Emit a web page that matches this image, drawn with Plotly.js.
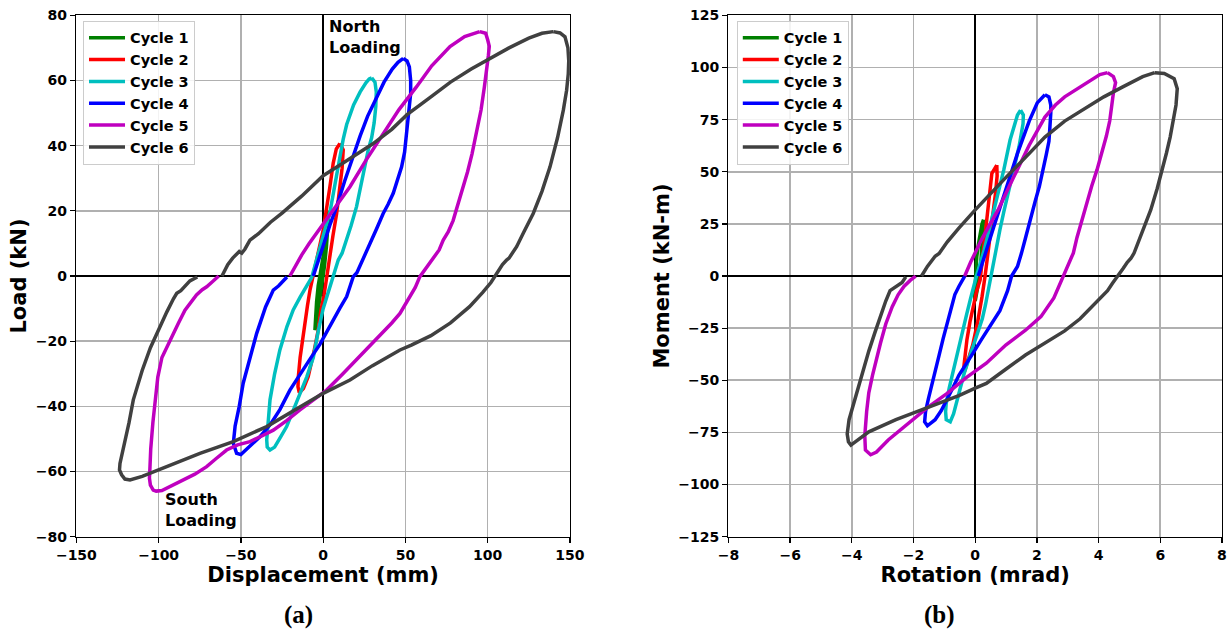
<!DOCTYPE html>
<html><head><meta charset="utf-8">
<script src="https://cdn.plot.ly/plotly-3.0.1.min.js"></script>
<style>html,body{margin:0;padding:0;background:#fff}#chart{width:1228px;height:633px}</style>
</head><body><div id="chart"></div>
<script>
const cycleNames = ['Cycle 1','Cycle 2','Cycle 3','Cycle 4','Cycle 5','Cycle 6'];
const cycleColors = ['#008000','#ff0000','#00bfbf','#0000ff','#bf00bf','#404040'];

// (a) Load vs displacement
const disp1 = [3.5, 3, 2, 0.8, -0.5, -2, -3.5, -5, -4.8, -4, -3, -1.5, 0, 2.1, 3.5];
const load1 = [20, 15, 9, 3, -2, -7, -12, -16.6, -13, -8, -3, 2, 6, 11, 20];
const disp2 = [10.2, 12.2, 11.5, 10.2, 8.2, 6, 4, 2.1, 0.5, -1.5, -3, -5.5, -9.1, -12, -14.5, -15.3, -15.1, -14, -12, -9.5, -8, -6, -4, -2, 0, 2, 4, 6.1, 8, 10.2];
const load2 = [40.7, 38.7, 33, 27.4, 19.2, 12.5, 5.5, -1.2, -6, -11, -16.6, -23, -30.9, -34.5, -35.8, -34, -31, -25, -17, -9, -4.3, 0, 4.5, 9.5, 14.1, 20, 27, 34.6, 39, 40.7];
const disp3 = [29.5, 31.5, 32.3, 32, 31, 29.5, 27.4, 25, 22.5, 20.3, 17, 14.3, 11.5, 9.2, 7.5, 6, 4, 2, 0, -3, -6, -10, -14.1, -18, -22.2, -26, -29.5, -32.3, -34, -34.3, -33.5, -32.3, -29.5, -26.3, -22, -18.2, -14, -10, -7, -4, -1, 1.5, 4.1, 7, 10, 12.2, 14.3, 18.5, 22.5, 26, 28, 29.5];
const load3 = [60.8, 59.5, 56.5, 52, 47, 42.5, 38.7, 32.5, 26.5, 21.3, 15.5, 11.5, 7, 4.9, 2, -0.5, -3.5, -6.5, -10, -17, -25, -31, -36, -41, -46.2, -49.5, -52.5, -53.4, -52.5, -50.3, -45, -38, -30, -22.7, -15.5, -10.4, -6.5, -3.3, -0.5, 5, 11, 15, 19.5, 27, 36, 42, 46.5, 52.5, 56.5, 59.3, 60.5, 60.8];
const disp4 = [48.7, 51, 52.4, 53.2, 53.2, 52, 50.7, 49.5, 47.7, 45, 42.6, 39.5, 36.5, 32.5, 28.5, 25, 22.4, 20.5, 18.3, 16.5, 14.3, 10, 6.1, 2, -2, -8, -14.1, -20.2, -26.3, -32, -38.4, -43, -46.5, -50, -52.6, -54.6, -53.5, -51, -48.6, -44.5, -40.4, -35, -30.3, -27, -24, -22, null, -6, -3, 0.5, 4, 8, 13, 18, 22.5, 27, 32, 37, 42, 45.5, 48.7];
const load4 = [66.8, 66, 64.2, 60, 56, 50, 43.8, 38, 33.5, 29, 25.4, 22, 19.2, 14.5, 10, 6, 2.9, 1, -0.2, -3, -6.3, -10, -13.5, -17, -21, -25.5, -30.5, -35, -41, -45.5, -49.3, -51.5, -53.4, -54.8, -54.4, -51.3, -46, -40, -32.9, -25, -17.6, -9.5, -4.3, -3, -1.5, -0.3, null, 0, 5, 10, 15.5, 21, 29, 36.5, 43, 49, 54.5, 59.5, 63.5, 65.6, 66.8];
const disp5 = [95.2, 98.8, 100, 101, 100.4, 99.4, 98, 96, 93.3, 90.5, 87.8, 85.2, 82, 79, 76, 73, 70.5, 67, 64, 61, 58.8, 56, 52.7, 49.5, 46.7, 41.7, 35, 29.8, 22.4, 12, 2.1, -6, -14.1, -22, -30.3, -37, -44.5, -52, -58.7, -65, -70.8, -78, -85, -92, -98, -101.5, -103.3, -105, -105.6, -105.3, -104.8, -103.5, -102.2, -100.5, -98, -93.1, -88, -84, -81, -77, -73.5, -70.8, -67, -63.5, null, -20.2, -17, -13, -8.5, -4, 0, 8, 16.3, 26, 36.5, 46, 56.8, 66, 77.1, 86, 93.3, 95.2];
const load5 = [75, 74.5, 72.5, 70.5, 67.5, 64.2, 58, 51, 43.8, 37.5, 32, 27.4, 21.5, 17, 13.5, 11, 8, 5.5, 3.5, 1.3, -0.2, -3.5, -6.3, -9, -11.5, -14.4, -18, -20.8, -24.8, -30, -35, -38, -41.1, -44.3, -47.3, -49, -50.8, -51.8, -53.4, -56, -58.5, -60.8, -62.6, -64.5, -65.8, -66, -65.7, -64.2, -62, -59, -53, -45, -38, -31, -25, -19.6, -14.5, -10.5, -8.4, -5.8, -4.2, -3.3, -1.6, 0, null, 0, 3, 6.5, 10, 13.1, 16.3, 21.5, 27.4, 35.5, 43.8, 51, 58.1, 64.5, 70.4, 73.5, 74.7, 75];
const disp6 = [139.9, 144, 147, 148.8, 149.3, 149, 148, 146, 142.5, 137.9, 133, 127.7, 122, 117.6, 113, 111.5, 109, 105.5, 102, 97, 89, 77.4, 65.5, 53.6, 46.7, 30, 16.3, 0, -14.1, -34.3, -54.6, -74.9, -95.1, -110, -117.4, -120.5, -122.5, -123.8, -123.5, -121, -118, -115.4, -110, -105, -100.2, -95, -91, -89, -86.5, -84, -81, -76.5, null, -61.5, -58, -55, -52.6, -51, -49.5, -47.5, -44.5, -39.3, -32, -25, -13.1, 0, 10, 17.9, 30, 41.7, 51, 65.5, 77.4, 90, 101.2, 113, 125, 133, 139.9];
const load6 = [75, 74.6, 73.4, 70, 66, 62, 57, 50.9, 42.5, 33.5, 26, 19.2, 13.5, 9, 5.5, 4.9, 3.5, 0.8, -2, -5, -9.4, -14.4, -18.3, -21.2, -22.7, -27.5, -31.9, -36, -40.1, -46.2, -50.8, -54.4, -58.5, -61.5, -62.6, -62.3, -61, -59.5, -57.5, -52, -45, -38, -29, -22, -16.6, -11, -7, -5.3, -4.5, -3, -1.5, -0.3, null, 0, 3.5, 5.5, 6.5, 7.5, 7, 8.3, 11, 13, 16.5, 19.3, 24.5, 30.8, 34, 36.5, 40.5, 45, 49.5, 55, 59.5, 63.5, 66.8, 70, 73, 74.5, 75];

// (b) Moment vs rotation
const rot1 = [0.27, 0.25, 0.22, 0.18, 0.12, 0.05, 0, -0.02, 0, 0.02, 0.05, 0.1, 0.16, 0.22, 0.27];
const mom1 = [27, 22, 14, 6, -2, -8, -12, -10, -4, 0, 9.2, 15, 20.5, 25, 27];
const rot2 = [0.70, 0.71, 0.66, 0.58, 0.5, 0.4, 0.32, 0.22, 0.08, -0.08, -0.25, -0.35, -0.38, -0.33, -0.27, -0.17, -0.06, 0.05, 0.16, 0.21, 0.32, 0.43, 0.54, 0.70];
const mom2 = [53.2, 48, 40, 30, 20, 8, 0, -10, -22, -33, -42, -46, -45, -38, -30.7, -22, -14.7, -7, -1.9, 4.5, 18.8, 33.2, 49.2, 53.2];
const rot3 = [1.47, 1.56, 1.55, 1.5, 1.42, 1.31, 1.18, 1.05, 0.93, 0.8, 0.7, 0.61, 0.51, 0.42, 0.33, 0.23, 0.1, -0.03, -0.2, -0.34, -0.47, -0.6, -0.7, -0.81, -0.94, -0.96, -0.94, -0.84, -0.72, -0.56, -0.41, -0.28, -0.15, -0.03, 0.04, 0.29, 0.61, 0.93, 1.13, 1.28, 1.37, 1.47];
const mom3 = [79.5, 77.2, 73, 68.5, 62, 55, 47, 39.5, 31, 22.1, 14, 6.6, 0, -7, -14, -20.5, -26.5, -32.1, -39, -45.7, -53, -61.1, -66, -69.9, -68.9, -65, -61.1, -53.5, -45.7, -36, -26.3, -18.5, -10.8, -3.1, 0, 12.4, 31.7, 51.1, 65.2, 73, 77.2, 79.5];
const rot4 = [2.26, 2.39, 2.45, 2.45, 2.42, 2.39, 2.3, 2.2, 2.08, 1.94, 1.8, 1.63, 1.5, 1.37, 1.18, 1.05, 0.8, 0.48, 0.22, -0.03, -0.28, -0.53, -0.72, -0.91, -1.1, -1.3, -1.55, -1.64, -1.61, -1.52, -1.42, -1.3, -1.17, -1.04, -0.91, -0.78, -0.66, -0.53, -0.34, null, 0.1, 0.29, 0.61, 0.99, 1.37, 1.75, 2.01, 2.26];
const mom4 = [86.9, 85.9, 82, 78.2, 71, 64.6, 58, 51.1, 43, 35.6, 27, 18.2, 11, 4.6, 0, -7, -16.6, -24.4, -30, -36, -42, -47.6, -53.5, -59.2, -64.5, -68.9, -71.8, -69.9, -65, -59, -53.4, -45.5, -37.9, -30, -22.4, -15, -8.9, -5, 0, null, 0, 8.5, 24, 41.4, 58.8, 74.3, 83, 86.9];
const rot5 = [4.29, 4.48, 4.55, 4.48, 4.42, 4.36, 4.25, 4.1, 3.95, 3.78, 3.6, 3.45, 3.3, 3.18, 3.05, 2.95, 2.86, 2.72, 2.55, 2.13, 1.63, 0.99, 0.36, -0.28, -0.91, -1.55, -2.18, -2.82, -3.2, -3.39, -3.56, -3.58, -3.52, -3.45, -3.33, -3.2, -3.07, -2.9, -2.69, -2.5, -2.31, -2.1, -1.93, null, -0.34, -0.15, 0.23, 0.74, 1.24, 1.75, 2.26, 2.6, 2.9, 3.53, 4.04, 4.29];
const mom5 = [97.5, 95.6, 92.7, 87.8, 81, 74.3, 67, 58.8, 51, 43.3, 34.5, 25.9, 18.5, 11, 6.5, 3.5, -0.3, -5, -10.5, -19.5, -26, -33.1, -41.8, -48.6, -56.3, -63.1, -70.8, -78.6, -84.4, -85.7, -83.4, -76.6, -65, -56, -47.6, -39, -32.1, -23, -14.7, -9, -5, -2, 0, null, 0, 6.6, 18.2, 31.7, 47.2, 62.7, 76.2, 82, 85.9, 91.7, 96.6, 97.5];
const rot6 = [5.82, 6.13, 6.45, 6.55, 6.51, 6.42, 6.32, 6.2, 6.07, 5.9, 5.69, 5.5, 5.31, 5.15, 5.05, 4.93, 4.8, 4.61, 4.45, 4.29, 3.91, 3.4, 2.9, 2.26, 1.63, 0.99, 0.36, 0, -0.53, -1.55, -2.57, -3.45, -3.83, -4.03, -4.11, -4.15, -4.09, -3.83, -3.65, -3.45, -3.25, -3.07, -2.9, -2.76, -2.57, -2.37, -2.25, null, -1.74, -1.55, -1.3, -1.17, -0.91, -0.53, 0, 0.48, 0.99, 1.63, 2.26, 2.9, 3.53, 4.17, 4.8, 5.43, 5.82];
const mom6 = [97.5, 97.1, 94.6, 89.8, 82, 74, 66.6, 59, 51.1, 42, 31.7, 24, 16.3, 11, 8.5, 6.6, 3.7, 0, -3.5, -7, -12.8, -20.5, -26.3, -32.1, -37.9, -44.7, -51.5, -53.8, -57.3, -63.1, -68.9, -74.7, -78.6, -81.1, -79.5, -75.7, -68.9, -55.3, -46, -36, -27, -18.6, -12, -7, -5, -3.1, -0.4, null, 0, 4.6, 9.5, 10.8, 16.3, 23, 31.7, 39.5, 47.2, 56.9, 66.6, 74.3, 80.1, 85.9, 90.8, 95.6, 97.5];

const dispSeries = [disp1, disp2, disp3, disp4, disp5, disp6];
const loadSeries = [load1, load2, load3, load4, load5, load6];
const rotSeries = [rot1, rot2, rot3, rot4, rot5, rot6];
const momSeries = [mom1, mom2, mom3, mom4, mom5, mom6];

const traces = [];
for (let i = 0; i < 6; i++) {
  traces.push({x: dispSeries[i], y: loadSeries[i], name: cycleNames[i], type: 'scatter', mode: 'lines',
    line: {color: cycleColors[i], width: 3.5}, xaxis: 'x', yaxis: 'y', legend: 'legend', hoverinfo: 'skip'});
}
for (let i = 0; i < 6; i++) {
  traces.push({x: rotSeries[i], y: momSeries[i], name: cycleNames[i], type: 'scatter', mode: 'lines',
    line: {color: cycleColors[i], width: 3.5}, xaxis: 'x2', yaxis: 'y2', legend: 'legend2', hoverinfo: 'skip'});
}

const tickFont = {family: 'DejaVu Sans', size: 14, color: 'black', weight: 'bold'};
const titleFont = {family: 'DejaVu Sans', size: 21, color: 'black', weight: 'bold'};
function axis(extra) {
  return Object.assign({
    showline: true, linecolor: 'black', linewidth: 1.5, mirror: true,
    ticks: 'outside', ticklen: 5, tickwidth: 1.3, tickcolor: 'black',
    showgrid: true, gridcolor: '#b0b0b0', gridwidth: 1.6,
    zeroline: true, zerolinecolor: 'black', zerolinewidth: 1.5,
    tickfont: tickFont, automargin: false, fixedrange: true
  }, extra);
}
const yDom = [0.1521, 0.9758];
const legendBase = {
  xanchor: 'left', yanchor: 'top', y: 0.9672, itemwidth: 36,
  bgcolor: 'rgba(255,255,255,0.85)', bordercolor: '#cccccc', borderwidth: 1,
  font: {family: 'DejaVu Sans', size: 14.5, color: 'black', weight: 'bold'}
};
const annFont = {family: 'DejaVu Sans', size: 16, color: 'black', weight: 'bold'};
const capFont = {family: 'Liberation Serif, Times New Roman, serif', size: 25, color: 'black', weight: 'bold'};

const layout = {
  width: 1228, height: 633,
  margin: {l: 0, r: 0, t: 0, b: 0},
  paper_bgcolor: 'white', plot_bgcolor: 'white',
  showlegend: true, hovermode: false,
  xaxis: axis({domain: [0.0622, 0.4641], range: [-150, 150], dtick: 50, tick0: 0, anchor: 'y',
    title: {text: 'Displacement (mm)', font: titleFont, standoff: 0}}),
  yaxis: axis({domain: yDom, range: [-80, 80], dtick: 20, tick0: 0, anchor: 'x',
    title: {text: 'Load (kN)', font: titleFont, standoff: 3}}),
  xaxis2: axis({domain: [0.5932, 0.9951], range: [-8, 8], dtick: 2, tick0: 0, anchor: 'y2',
    title: {text: 'Rotation (mrad)', font: titleFont, standoff: 0}}),
  yaxis2: axis({domain: yDom, range: [-125, 125], dtick: 25, tick0: 0, anchor: 'x2',
    title: {text: 'Moment (kN-m)', font: titleFont, standoff: 3}}),
  legend: Object.assign({x: 0.0676}, legendBase),
  legend2: Object.assign({x: 0.6000}, legendBase),
  annotations: [
    {text: 'North<br>Loading', xref: 'paper', yref: 'paper', x: 0.2663, y: 0.9417, xanchor: 'left', yanchor: 'middle', align: 'left', showarrow: false, font: annFont},
    {text: 'South<br>Loading', xref: 'paper', yref: 'paper', x: 0.1324, y: 0.1951, xanchor: 'left', yanchor: 'middle', align: 'left', showarrow: false, font: annFont},
    {text: '(a)', xref: 'paper', yref: 'paper', x: 0.2429, y: 0.0284, xanchor: 'center', yanchor: 'middle', borderpad: 0, showarrow: false, font: capFont},
    {text: '(b)', xref: 'paper', yref: 'paper', x: 0.7654, y: 0.0284, xanchor: 'center', yanchor: 'middle', borderpad: 0, showarrow: false, font: capFont}
  ]
};

Plotly.newPlot('chart', traces, layout, {displayModeBar: false, staticPlot: true});
</script>
</body></html>
